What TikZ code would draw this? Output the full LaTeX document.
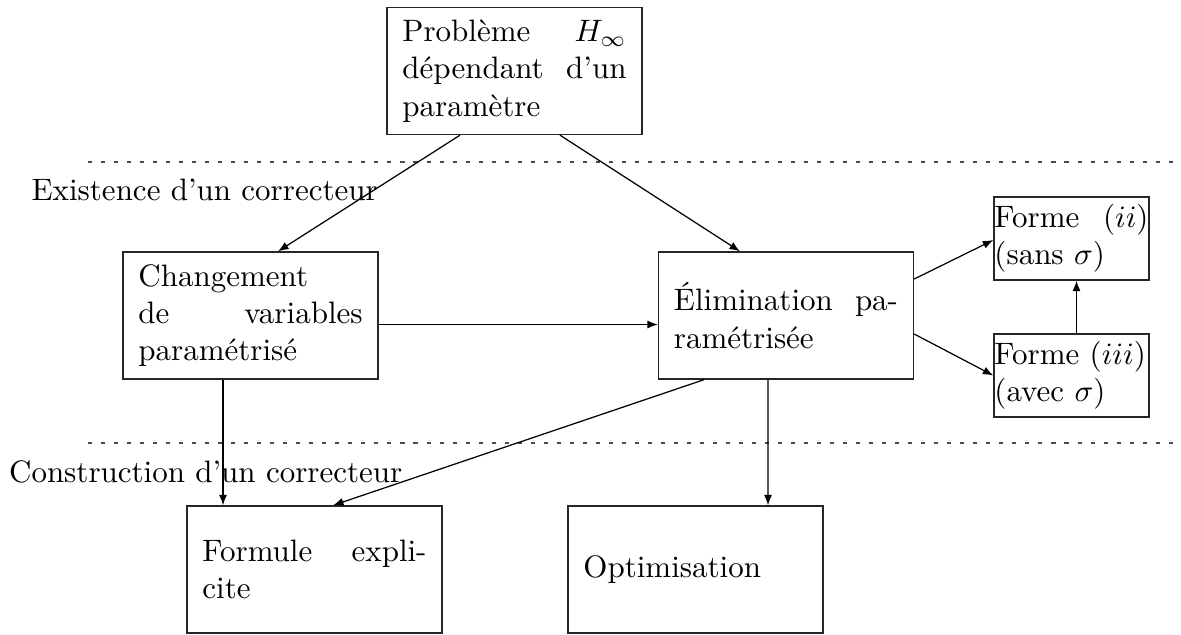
\documentclass[tikz,border=0pt]{standalone}
\usetikzlibrary{arrows.meta}
\newcommand\pxu{0.32258pt}
\begin{document}
\begin{tikzpicture}[x=0.32258pt,y=-0.32258pt,
  bigbox/.style={draw=black!85,rectangle,text width=72.3pt,align=left,minimum width=82.3pt,minimum height=41pt,inner xsep=0pt,inner ysep=0pt},
  smallbox/.style={draw=black!85,rectangle,text width=49.7pt,align=left,minimum width=50pt,minimum height=26.8pt,inner xsep=0pt,inner ysep=2pt},
  conn/.style={-{Latex[length=3.4pt,width=2.6pt]}},
  sep/.style={dash pattern=on 1.3pt off 2.9pt,draw=black!70},
  lbl/.style={anchor=base west,inner sep=0pt}]
\useasboundingbox (0,0) rectangle (1181,634);
\node[bigbox] (top) at (514.5,71) {Problème\hfill$H_\infty$\\dépendant\hfill d'un\\paramètre};
\node[bigbox] (chg) at (250.5,315.5) {Changement\\de\hfill variables\\paramétrisé};
\node[bigbox] (elim) at (786,315.5) {Élimination\hfill pa-\\ramétrisée};
\node[smallbox] (f2) at (1071.5,238.5) {Forme\hfill$(ii)$\\(sans~$\sigma$)};
\node[smallbox] (f3) at (1071.5,375.5) {Forme~$(iii)$\\(avec~$\sigma$)};
\node[bigbox] (form) at (314.5,569.5) {Formule\hfill expli-\\cite};
\node[bigbox] (opt) at (695.5,569.5) {Optimisation};
\node[lbl] (ex) at (31,200) {Existence d'un correcteur};
\node[lbl] (co) at (8.5,482) {Construction d'un correcteur};
\coordinate (s1a) at (88,162); \coordinate (s1b) at (1173,162);
\coordinate (s2a) at (88,443); \coordinate (s2b) at (1173,443);
\draw[sep] (s1a) -- (s1b);
\draw[sep] (s2a) -- (s2b);
\draw[conn] ([xshift=-54.5*\pxu]top.south) -- ([xshift=27.5*\pxu]chg.north);
\draw[conn] ([xshift=45.5*\pxu]top.south) -- ([xshift=-46*\pxu]elim.north);
\draw[conn] ([yshift=-9*\pxu]chg.east) -- ([yshift=-9*\pxu]elim.west);
\draw[conn] ([yshift=36.5*\pxu]elim.east) -- ([yshift=-1.5*\pxu]f2.west);
\draw[conn] ([yshift=-18.5*\pxu]elim.east) -- (f3.west);
\draw[conn] ([xshift=5*\pxu]f3.north) -- ([xshift=5*\pxu]f2.south);
\draw[conn] ([xshift=-27.5*\pxu]chg.south) -- ([xshift=-91.5*\pxu]form.north);
\draw[conn] ([xshift=-82*\pxu]elim.south) -- ([xshift=18.5*\pxu]form.north);
\draw[conn] ([xshift=-18*\pxu]elim.south) -- ([xshift=72.5*\pxu]opt.north);
\end{tikzpicture}
\end{document}
